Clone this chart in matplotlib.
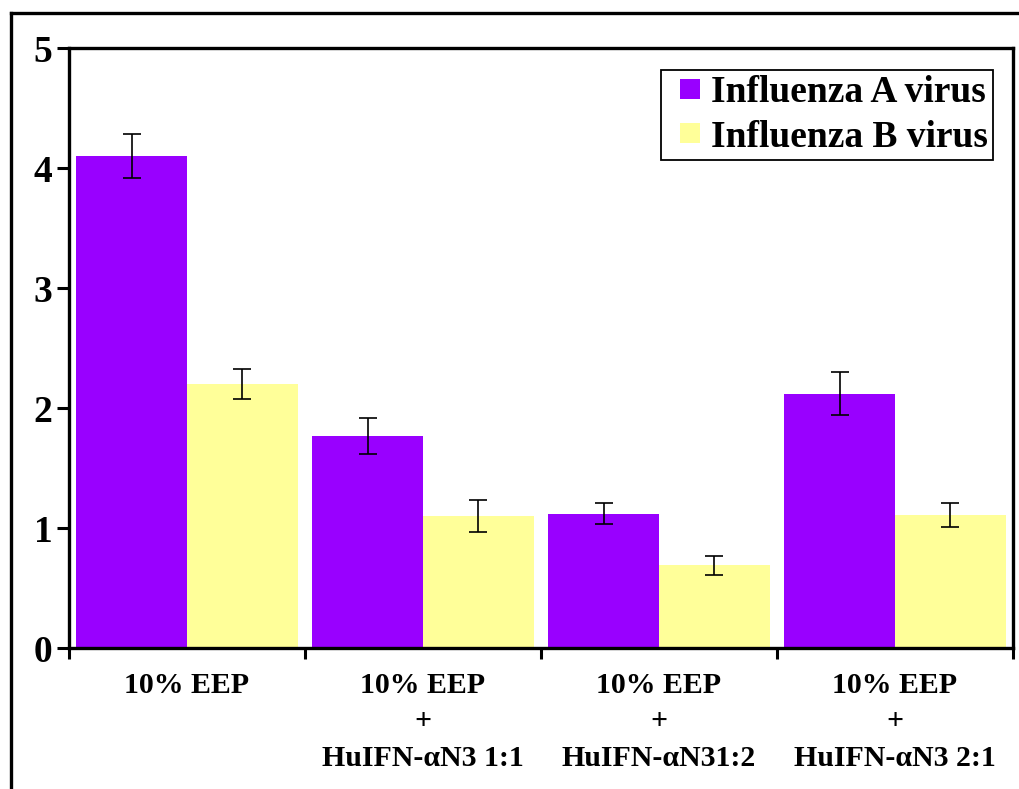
import matplotlib
matplotlib.use("Agg")
import matplotlib.pyplot as plt
import numpy as np
from matplotlib.lines import Line2D
from matplotlib.patches import Rectangle
from matplotlib.legend_handler import HandlerPatch

categories = ["10% EEP", "10% EEP\n+\nHuIFN-αN3 1:1", "10% EEP\n+\nHuIFN-αN31:2", "10% EEP\n+\nHuIFN-αN3 2:1"]
series_names = ["Influenza A virus", "Influenza B virus"]
flu_a = [4.10, 1.77, 1.12, 2.12]
flu_a_err = [0.18, 0.15, 0.09, 0.18]
flu_b = [2.20, 1.10, 0.69, 1.11]
flu_b_err = [0.125, 0.13, 0.08, 0.10]
colors = ["#9900FF", "#FFFF99"]

plt.rcParams['font.family'] = ['Liberation Serif', 'DejaVu Serif']
plt.rcParams['font.weight'] = 'bold'

fig = plt.figure(figsize=(10.19, 7.89), dpi=100)
ax = fig.add_axes([69/1019, 1-648/789, (1013-69)/1019, (648-48)/789])

x = np.arange(len(categories))
w = 0.47
ax.bar(x - w/2, flu_a, w, color=colors[0], label=series_names[0], zorder=2)
ax.bar(x + w/2, flu_b, w, color=colors[1], label=series_names[1], zorder=2)
ax.errorbar(x - w/2, flu_a, yerr=flu_a_err, fmt='none', ecolor='black', elinewidth=1.2, capsize=6.5, capthick=1.2, zorder=3)
ax.errorbar(x + w/2, flu_b, yerr=flu_b_err, fmt='none', ecolor='black', elinewidth=1.2, capsize=6.5, capthick=1.2, zorder=3)

ax.set_xlim(-0.5, len(categories) - 0.5)
ax.set_ylim(0, 5)
ax.set_yticks([0, 1, 2, 3, 4, 5])
ax.tick_params(axis='y', direction='out', length=9, width=2.2, labelsize=27, pad=3)
for lab in ax.get_yticklabels():
    lab.set_fontweight('bold')

ax.set_xticks(np.arange(len(categories) + 1) - 0.5)
ax.set_xticklabels([])
ax.set_xticks(x, minor=True)
ax.set_xticklabels(categories, minor=True, fontsize=21.5, fontweight='bold', linespacing=1.45)
ax.tick_params(axis='x', which='major', direction='out', length=8, width=2.2)
ax.tick_params(axis='x', which='minor', length=0, pad=17)

for s in ax.spines.values():
    s.set_linewidth(2.4)


def make_square(legend, orig_handle, xdescent, ydescent, width, height, fontsize):
    side = 14.4
    return Rectangle((width - side - xdescent, (height - side) / 2 - ydescent), side, side)


legend_handles = [Rectangle((0, 0), 1, 1, facecolor=c, edgecolor='none') for c in colors]
leg = ax.legend(legend_handles, series_names, loc='upper right',
                bbox_to_anchor=(993/1019, 1-70/789), bbox_transform=fig.transFigure,
                prop={'family': 'Liberation Serif', 'weight': 'bold', 'size': 27},
                fancybox=False, edgecolor='black', framealpha=1, handlelength=0.88, handleheight=0.55,
                handletextpad=0.3, borderpad=0.14, labelspacing=0.25, borderaxespad=0,
                handler_map={Rectangle: HandlerPatch(patch_func=make_square)})
leg.get_frame().set_linewidth(1.3)

# outer figure frame (left and top)
fig.add_artist(Line2D([11/1019, 11/1019], [0, 1-13/789], transform=fig.transFigure, color='black', lw=2.4))
fig.add_artist(Line2D([11/1019, 1], [1-13/789, 1-13/789], transform=fig.transFigure, color='black', lw=2.4))

fig.savefig("out.png", dpi=100)
